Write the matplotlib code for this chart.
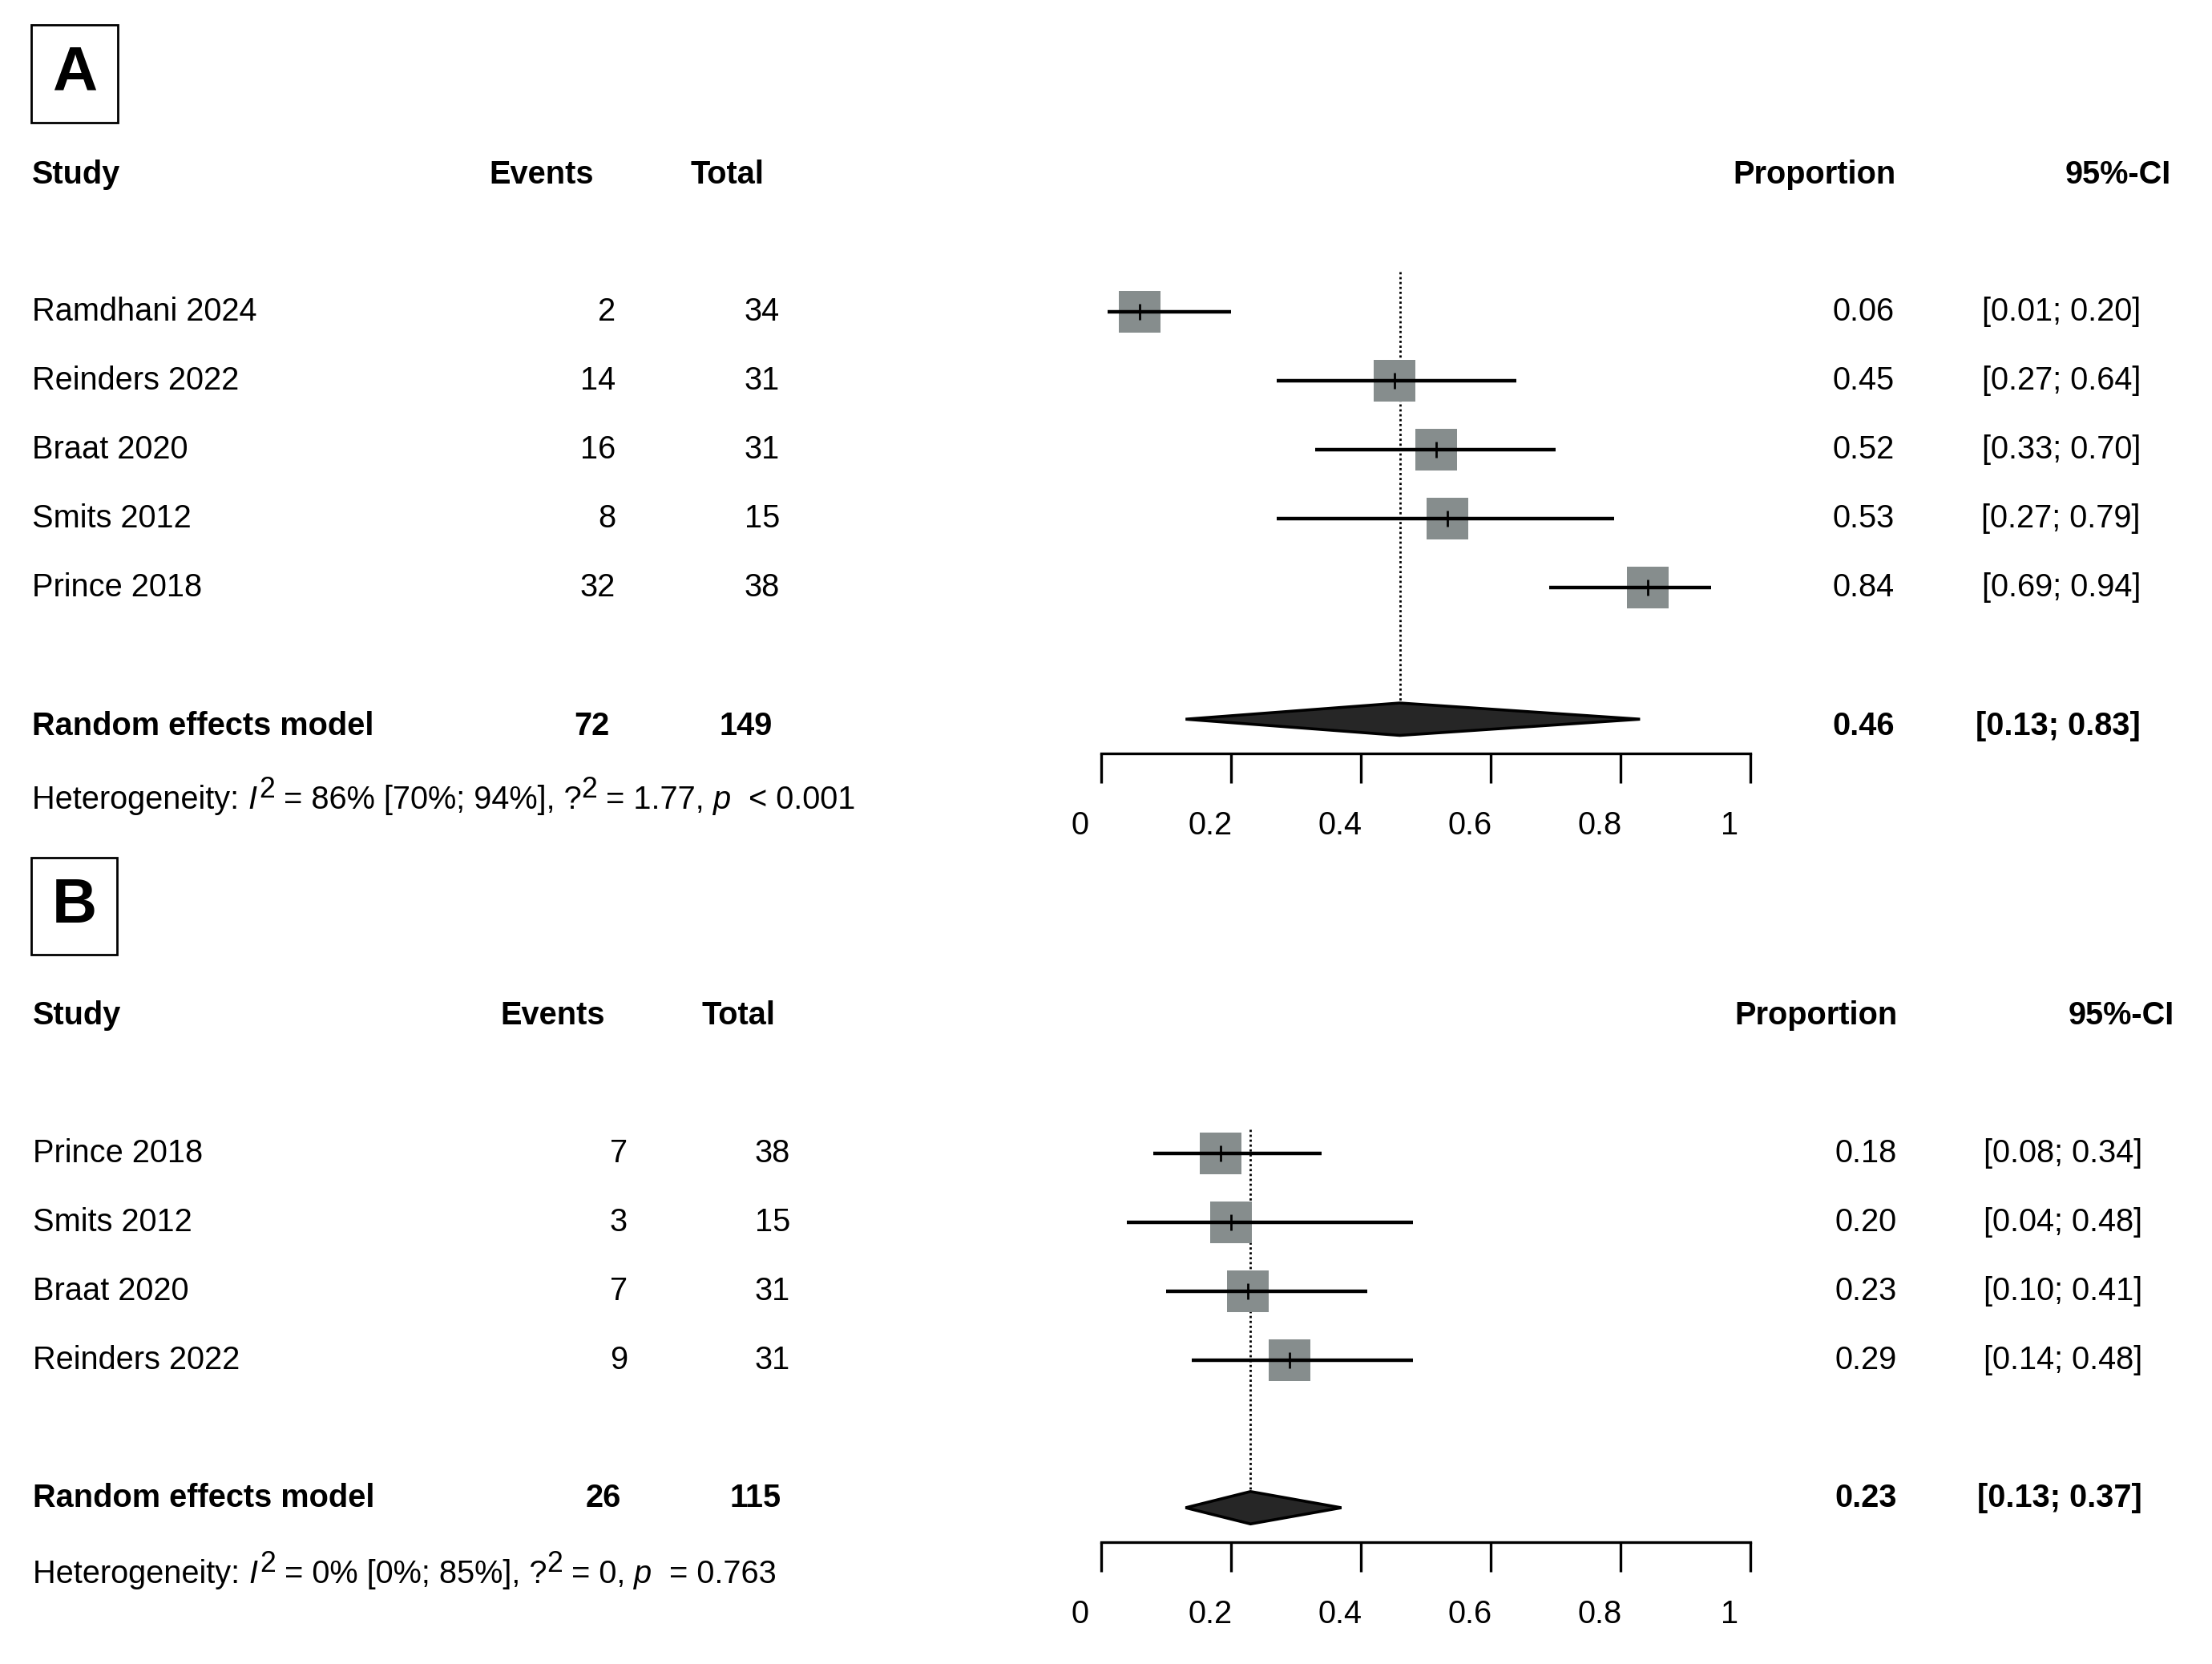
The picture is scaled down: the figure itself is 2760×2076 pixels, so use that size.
import matplotlib.pyplot as plt
import matplotlib.transforms as mtransforms
from matplotlib.patches import Rectangle

plt.rcParams['font.family'] = ['Liberation Sans', 'DejaVu Sans']

# Panel A data
studies_a = ["Ramdhani 2024", "Reinders 2022", "Braat 2020", "Smits 2012", "Prince 2018"]
events_a = [2, 14, 16, 8, 32]
totals_a = [34, 31, 31, 15, 38]
lower_a = [0.01, 0.27, 0.33, 0.27, 0.69]
upper_a = [0.20, 0.64, 0.70, 0.79, 0.94]
pooled_a = [0.46, 0.13, 0.83]
het_a = ["86% [70%; 94%], ?", "1.77, ", "  < 0.001"]

# Panel B data
studies_b = ["Prince 2018", "Smits 2012", "Braat 2020", "Reinders 2022"]
events_b = [7, 3, 7, 9]
totals_b = [38, 15, 31, 31]
lower_b = [0.08, 0.04, 0.10, 0.14]
upper_b = [0.34, 0.48, 0.41, 0.48]
pooled_b = [0.23, 0.13, 0.37]
het_b = ["0% [0%; 85%], ?", "0, ", "  = 0.763"]

xticks = [0, 0.2, 0.4, 0.6, 0.8, 1]
xticklabels = ["0", "0.2", "0.4", "0.6", "0.8", "1"]

W, H = 2760, 2076
DPI = 200
FS = 14.3
ROW = 86.0
SQ_COL = '#868d8d'

fig = plt.figure(figsize=(W / DPI, H / DPI), dpi=DPI)


def panel(letter, box, row1_px, cols, rows, studies, events, totals, lower, upper, pooled, het):
    # rows: header, pooled, diamond, axis, het, dotted line top
    top, bot = -1.6, rows['axis'] + 1.3
    top_px = row1_px + (top - 1) * ROW
    bot_px = row1_px + (bot - 1) * ROW
    ax = fig.add_axes([1374 / W, 1 - bot_px / H, 810 / W, (bot_px - top_px) / H])
    ax.set_xlim(0, 1)
    ax.set_ylim(bot, top)
    for s in ['left', 'right', 'top']:
        ax.spines[s].set_visible(False)
    ax.spines['bottom'].set_position(('data', rows['axis']))
    ax.spines['bottom'].set_bounds(0, 1)
    ax.spines['bottom'].set_linewidth(1.2)
    ax.set_yticks([])
    ax.set_xticks(xticks)
    ax.set_xticklabels(xticklabels)
    ax.tick_params(axis='x', direction='out', length=13.3, width=1.2, pad=12.3, labelsize=FS)
    shift = mtransforms.ScaledTranslation(-26 / DPI, 0, fig.dpi_scale_trans)
    for lab in ax.get_xticklabels():
        lab.set_transform(lab.get_transform() + shift)

    tr = mtransforms.blended_transform_factory(fig.transFigure, ax.transData)
    off = 0.13

    def txt(xpx, row, s, ha='right', bold=False, **kw):
        return ax.text(xpx / W, row + off, s, transform=tr, ha=ha, va='baseline', fontsize=FS,
                       fontweight='bold' if bold else 'normal', **kw)

    # headers
    hr = rows['header']
    txt(cols['study'], hr, "Study", ha='left', bold=True)
    txt(cols['ev_h'], hr, "Events", bold=True)
    txt(cols['tot_h'], hr, "Total", bold=True)
    txt(cols['prop_h'], hr, "Proportion", bold=True)
    txt(cols['ci_h'], hr, "95%-CI", bold=True)

    est = pooled[0]
    for i, name in enumerate(studies):
        r = i + 1
        p = events[i] / totals[i]
        txt(cols['study'], r, name, ha='left')
        txt(cols['ev'], r, str(events[i]))
        txt(cols['tot'], r, str(totals[i]))
        txt(cols['prop'], r, f"{p:.2f}")
        txt(cols['ci'], r, f"[{lower[i]:.2f}; {upper[i]:.2f}]")
        ax.plot(p, r, marker='s', ms=18.7, mew=0, color=SQ_COL, zorder=2, clip_on=False)
        ax.plot([lower[i], upper[i]], [r, r], color='black', lw=1.6, zorder=3,
                solid_capstyle='butt', clip_on=False)
        ax.plot(p, r, marker='|', ms=7.5, mew=1.0, color='black', zorder=4, clip_on=False)

    pr = rows['pooled']
    txt(cols['study'], pr, "Random effects model", ha='left', bold=True)
    txt(cols['ev_s'], pr, str(sum(events)), bold=True)
    txt(cols['tot_s'], pr, str(sum(totals)), bold=True)
    txt(cols['prop'], pr, f"{est:.2f}", bold=True)
    txt(cols['ci'], pr, f"[{pooled[1]:.2f}; {pooled[2]:.2f}]", bold=True)

    dr = rows['diamond']
    hh = 0.235
    ax.fill([pooled[1], est, pooled[2], est], [dr, dr - hh, dr, dr + hh],
            facecolor='#262626', edgecolor='black', lw=1.3, zorder=3, clip_on=False)
    ax.plot([est, est], [rows['line_top'], dr - hh], color='black', lw=1.0,
            linestyle=(0, (1, 1.2)), zorder=1)

    # heterogeneity line
    t = txt(cols['study'], rows['het'], "Heterogeneity: ", ha='left')
    t = ax.annotate("I", xy=(1, 0), xycoords=t, va='bottom', ha='left', fontsize=FS, style='italic')
    base = t
    t = ax.annotate("2", xy=(1, 0), xycoords=t, va='bottom', ha='left', fontsize=FS * 0.9,
                    xytext=(1, 5), textcoords='offset points')
    t = ax.annotate(" = " + het[0], xy=(1, 0), xycoords=(t, base), va='bottom', ha='left',
                    fontsize=FS)
    base = t
    t = ax.annotate("2", xy=(1, 0), xycoords=t, va='bottom', ha='left', fontsize=FS * 0.9,
                    xytext=(0, 5), textcoords='offset points')
    t = ax.annotate(" = " + het[1], xy=(1, 0), xycoords=(t, base), va='bottom', ha='left',
                    fontsize=FS)
    t = ax.annotate("p", xy=(1, 0), xycoords=t, va='bottom', ha='left', fontsize=FS, style='italic')
    ax.annotate(het[2], xy=(1, 0), xycoords=t, va='bottom', ha='left', fontsize=FS)

    # panel letter box
    x0, y0, x1, y1 = box
    fig.add_artist(Rectangle((x0 / W, 1 - y1 / H), (x1 - x0) / W, (y1 - y0) / H,
                             transform=fig.transFigure, fill=False, lw=1.0, color='black'))
    fig.text((x0 + x1) / 2 / W, 1 - (y0 + y1) / 2 / H, letter, ha='center', va='center',
             fontsize=28, fontweight='bold')
    return ax


cols_a = dict(study=40, ev_h=741, ev=768, ev_s=761, tot_h=953, tot=973, tot_s=964,
              prop_h=2366, prop=2364, ci_h=2709, ci=2671)
rows_a = dict(header=-0.99, pooled=7.01, diamond=6.91, axis=7.41, het=8.08, line_top=0.42)
panel("A", (39, 31, 147, 153), 389, cols_a, rows_a, studies_a, events_a, totals_a,
      lower_a, upper_a, pooled_a, het_a)

cols_b = dict(study=41, ev_h=755, ev=783, ev_s=775, tot_h=968, tot=986, tot_s=975,
              prop_h=2368, prop=2367, ci_h=2713, ci=2673)
rows_b = dict(header=-1.0, pooled=6.0, diamond=6.14, axis=6.64, het=7.10, line_top=0.65)
panel("B", (39, 1070, 146, 1191), 1439, cols_b, rows_b, studies_b, events_b, totals_b,
      lower_b, upper_b, pooled_b, het_b)

fig.savefig("out.png", dpi=DPI)
